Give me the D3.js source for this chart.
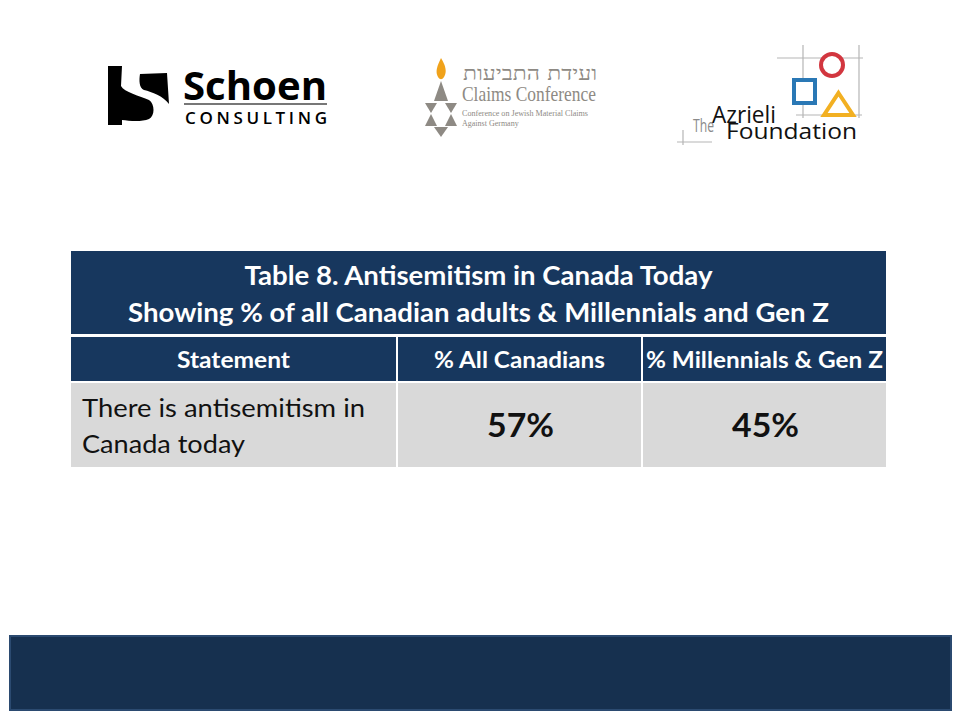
<!DOCTYPE html>
<html>
<head>
<meta charset="utf-8">
<script src="https://cdn.jsdelivr.net/npm/d3@7/dist/d3.min.js"></script>
<style>
  body { margin: 0; background: #fff; }
  svg { display: block; }
</style>
</head>
<body>
<svg width="960" height="720"></svg>
<script>
// 表格数据
var titleLines = ["Table 8. Antisemitism in Canada Today", "Showing % of all Canadian adults & Millennials and Gen Z"];
var columns = ["Statement", "% All Canadians", "% Millennials & Gen Z"];
var statements = ["There is antisemitism in Canada today"];
var statementLines = [["There is antisemitism in", "Canada today"]];
var allCanadians = [57];
var millennialsGenZ = [45];

var svg = d3.select("svg"),
  width = +svg.attr("width"),
  height = +svg.attr("height");

var navy = "#17375e";
var font = "Lato, 'Open Sans', sans-serif";

// 文字宽度（按参考图量取）
var titleWidths = [468, 701];
var headWidths = [113, 171, 237];
var stmtWidths = [283, 163];

// ---- logos ----
var logos = svg.append("g");

// Schoen Consulting
logos.append("path")
  .attr("d", "M108,66 L122,66 L121,86 C124,92 140,96 149,100 C155,104 155,116 149,119 C142,122 130,121 122,120 L122,125 L108,125 Z")
  .attr("fill", "#000");
logos.append("path")
  .attr("d", "M140,74 L167,73 L169,104 C163,96 152,92 144,90 C139,88 139,80 140,74 Z")
  .attr("fill", "#000");
logos.append("text")
  .attr("x", 183).attr("y", 100)
  .style("font-family", "'Open Sans', sans-serif")
  .style("font-weight", "bold")
  .style("font-size", "40px")
  .attr("textLength", 144)
  .attr("lengthAdjust", "spacingAndGlyphs")
  .attr("fill", "#000")
  .text("Schoen");
logos.append("rect")
  .attr("x", 184).attr("y", 103).attr("width", 143).attr("height", 2)
  .attr("fill", "#777");
logos.append("text")
  .attr("x", 185).attr("y", 124)
  .style("font-family", "'Open Sans', sans-serif")
  .style("font-weight", "600")
  .style("font-size", "17px")
  .attr("textLength", 142)
  .attr("lengthAdjust", "spacing")
  .attr("fill", "#000")
  .text("CONSULTING");

// Claims Conference
var gray = "#8e8a84";
logos.append("path")
  .attr("d", "M441,58 C446,66 447,72 444,77 C442,80 440,80 438,77 C435,72 437,66 441,58 Z")
  .attr("fill", "#f0a21b");
logos.selectAll("polygon.star")
  .data([
    "441,81 448,101 434,101",
    "425,103 437,103 431,113",
    "445,103 457,103 451,113",
    "431,114 437,126 425,126",
    "451,114 457,126 445,126",
    "434,127 448,127 441,137"
  ])
  .enter().append("polygon")
  .attr("class", "star")
  .attr("points", function (d) { return d; })
  .attr("fill", gray);
logos.append("text")
  .attr("x", 597).attr("y", 80)
  .attr("text-anchor", "end")
  .style("font-family", "'DejaVu Serif', serif")
  .style("font-size", "19px")
  .attr("fill", gray)
  .attr("textLength", 134)
  .attr("lengthAdjust", "spacingAndGlyphs")
  .text("ועידת התביעות");
logos.append("text")
  .attr("x", 462).attr("y", 101)
  .style("font-family", "'Liberation Serif', serif")
  .style("font-size", "21px")
  .attr("fill", gray)
  .attr("textLength", 134)
  .attr("lengthAdjust", "spacingAndGlyphs")
  .text("Claims Conference");
logos.append("text")
  .attr("x", 462).attr("y", 116)
  .style("font-family", "'Liberation Serif', serif")
  .style("font-size", "8px")
  .attr("fill", gray)
  .attr("textLength", 126)
  .attr("lengthAdjust", "spacingAndGlyphs")
  .text("Conference on Jewish Material Claims");
logos.append("text")
  .attr("x", 462).attr("y", 126)
  .style("font-family", "'Liberation Serif', serif")
  .style("font-size", "8px")
  .attr("fill", gray)
  .text("Against Germany");

// Azrieli Foundation
var gridLines = [
  [777, 58, 863, 58], [803, 45, 803, 118], [859, 45, 859, 118],
  [796, 115, 862, 115], [677, 142, 712, 142], [683, 130, 683, 145]
];
logos.selectAll("line.grid")
  .data(gridLines)
  .enter().append("line")
  .attr("class", "grid")
  .attr("x1", function (d) { return d[0]; })
  .attr("y1", function (d) { return d[1]; })
  .attr("x2", function (d) { return d[2]; })
  .attr("y2", function (d) { return d[3]; })
  .attr("stroke", "#b5b5b5")
  .attr("stroke-width", 1.2);
logos.append("circle")
  .attr("cx", 832).attr("cy", 65).attr("r", 11)
  .attr("fill", "#fff").attr("stroke", "#d2363f").attr("stroke-width", 4);
logos.append("rect")
  .attr("x", 794).attr("y", 80).attr("width", 21).attr("height", 23)
  .attr("fill", "#fff").attr("stroke", "#2a78b5").attr("stroke-width", 4);
logos.append("polygon")
  .attr("points", "838.5,93 853,115 824,115")
  .attr("fill", "#fff").attr("stroke", "#f2b022").attr("stroke-width", 4)
  .attr("stroke-linejoin", "miter");
logos.append("text")
  .attr("x", 693).attr("y", 132)
  .style("font-family", "'Open Sans', sans-serif")
  .style("font-size", "19px")
  .attr("fill", "#8a8a8a")
  .attr("textLength", 21)
  .attr("lengthAdjust", "spacingAndGlyphs")
  .text("The");
logos.append("text")
  .attr("x", 712).attr("y", 123)
  .style("font-family", "'Open Sans', sans-serif")
  .style("font-size", "24px")
  .attr("fill", "#111")
  .attr("textLength", 64)
  .attr("lengthAdjust", "spacingAndGlyphs")
  .text("Azrieli");
logos.append("text")
  .attr("x", 726).attr("y", 139)
  .style("font-family", "'Open Sans', sans-serif")
  .style("font-size", "22px")
  .attr("fill", "#111")
  .attr("textLength", 131)
  .attr("lengthAdjust", "spacingAndGlyphs")
  .text("Foundation");

// ---- table ----
var tableLeft = 71, tableRight = 886;
var colEdges = [71, 398, 643, 886];
var xCol = d3.scaleOrdinal().domain(columns).range(colEdges.slice(0, 3));
var colWidth = function (c) {
  var i = columns.indexOf(c);
  return colEdges[i + 1] - colEdges[i] - (i < 2 ? 2 : 0);
};

var table = svg.append("g");

// 标题区
table.append("rect")
  .attr("x", tableLeft).attr("y", 251)
  .attr("width", tableRight - tableLeft).attr("height", 83)
  .attr("fill", navy);
table.selectAll("text.title")
  .data(titleLines)
  .enter().append("text")
  .attr("class", "title")
  .attr("x", (tableLeft + tableRight) / 2)
  .attr("y", function (d, i) { return 285 + i * 37; })
  .attr("text-anchor", "middle")
  .style("font-family", font)
  .style("font-weight", "bold")
  .style("font-size", "26px")
  .attr("textLength", function (d, i) { return titleWidths[i]; })
  .attr("lengthAdjust", "spacingAndGlyphs")
  .attr("fill", "#fff")
  .text(function (d) { return d; });

// 列标题
table.selectAll("rect.colhead")
  .data(columns)
  .enter().append("rect")
  .attr("class", "colhead")
  .attr("x", function (d) { return xCol(d); })
  .attr("y", 337)
  .attr("width", colWidth)
  .attr("height", 44)
  .attr("fill", navy);
table.selectAll("text.colhead")
  .data(columns)
  .enter().append("text")
  .attr("class", "colhead")
  .attr("x", function (d) { return xCol(d) + colWidth(d) / 2; })
  .attr("y", 368)
  .attr("text-anchor", "middle")
  .style("font-family", font)
  .style("font-weight", "bold")
  .style("font-size", "22px")
  .attr("textLength", function (d, i) { return headWidths[i]; })
  .attr("lengthAdjust", "spacingAndGlyphs")
  .attr("fill", "#fff")
  .text(function (d) { return d; });

// 数据行
var rows = statements.map(function (s, i) {
  return { statement: s, lines: statementLines[i], values: [allCanadians[i], millennialsGenZ[i]] };
});
var rowG = table.selectAll("g.row")
  .data(rows)
  .enter().append("g")
  .attr("class", "row")
  .attr("transform", function (d, i) { return "translate(0," + (383 + i * 86) + ")"; });

rowG.selectAll("rect")
  .data(columns)
  .enter().append("rect")
  .attr("x", function (d) { return xCol(d); })
  .attr("y", 0)
  .attr("width", colWidth)
  .attr("height", 84)
  .attr("fill", "#d9d9d9");

rowG.selectAll("text.stmt")
  .data(function (d) { return d.lines; })
  .enter().append("text")
  .attr("class", "stmt")
  .attr("x", xCol(columns[0]) + 11)
  .attr("y", function (d, i) { return 34 + i * 36; })
  .style("font-family", font)
  .style("font-size", "25px")
  .attr("textLength", function (d, i) { return stmtWidths[i]; })
  .attr("lengthAdjust", "spacingAndGlyphs")
  .attr("fill", "#111")
  .text(function (d) { return d; });

rowG.selectAll("text.val")
  .data(function (d) { return d.values; })
  .enter().append("text")
  .attr("class", "val")
  .attr("x", function (d, i) { var c = columns[i + 1]; return xCol(c) + colWidth(c) / 2 + 1; })
  .attr("y", 54)
  .attr("text-anchor", "middle")
  .style("font-family", font)
  .style("font-weight", "bold")
  .style("font-size", "33px")
  .attr("textLength", 67)
  .attr("lengthAdjust", "spacingAndGlyphs")
  .attr("fill", "#111")
  .text(function (d) { return d + "%"; });

// ---- 底部色条 ----
svg.append("rect")
  .attr("x", 10).attr("y", 636)
  .attr("width", 941).attr("height", 74)
  .attr("fill", "#16304f")
  .attr("stroke", "#2b4a70")
  .attr("stroke-width", 2);
</script>
</body>
</html>
